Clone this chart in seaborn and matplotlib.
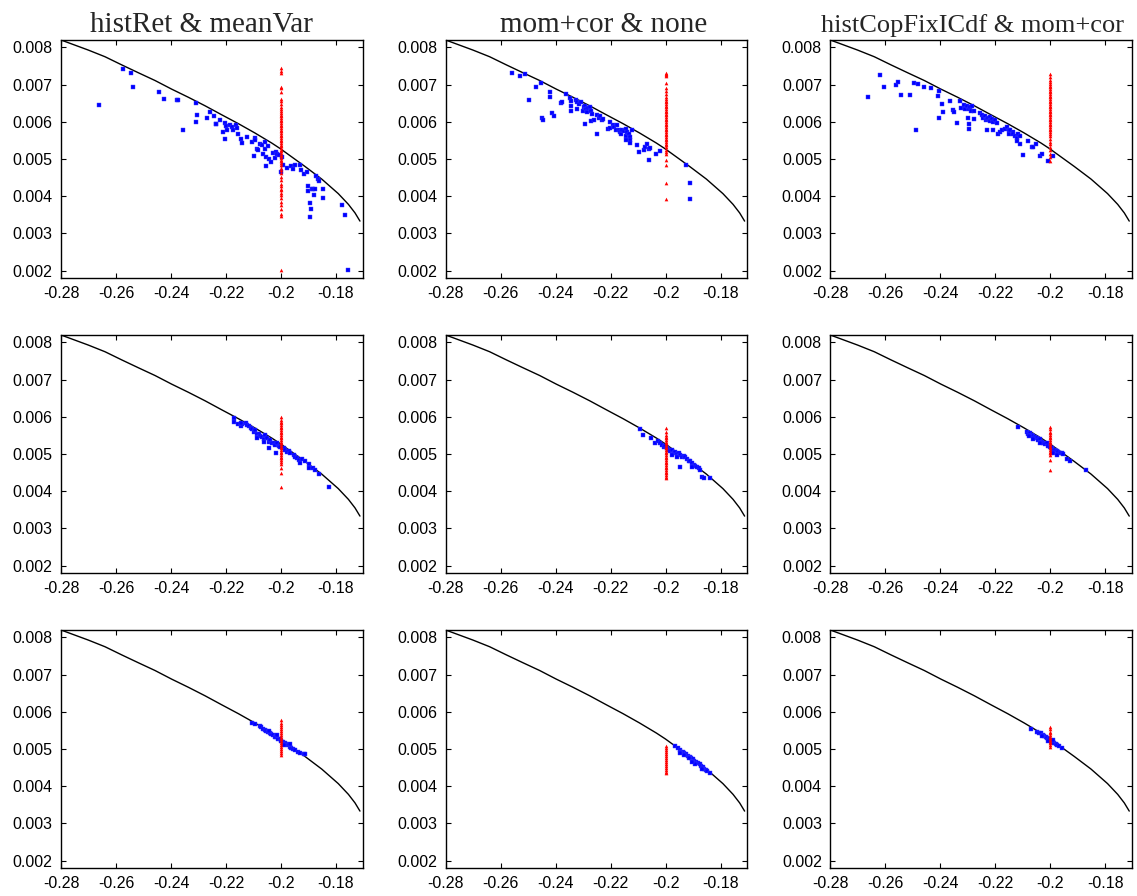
import matplotlib
matplotlib.use("Agg")
import matplotlib.pyplot as plt
import seaborn as sns
import pandas as pd

# ---------------- data ----------------
TITLES = ["histRet & meanVar", "mom+cor & none", "histCopFixICdf & mom+cor"]
TITLE_X = [0.467, 0.525, 0.470]
TITLE_SIZE = [21, 21, 19]

X_TICKS = [-0.28, -0.26, -0.24, -0.22, -0.20, -0.18]
X_TICK_LABELS = ["-0.28", "-0.26", "-0.24", "-0.22", "-0.2", "-0.18"]
Y_TICKS = [0.002, 0.003, 0.004, 0.005, 0.006, 0.007, 0.008]
Y_TICK_LABELS = ["0.002", "0.003", "0.004", "0.005", "0.006", "0.007", "0.008"]

# efficient frontier
frontier_x = [-0.28, -0.2701, -0.264, -0.2579, -0.2519, -0.2458, -0.2398, -0.2337,
              -0.2276, -0.2216, -0.2155, -0.2095, -0.2034, -0.2001, -0.1973, -0.1913,
              -0.1852, -0.1792, -0.1755, -0.1731, -0.1713]
frontier_y = [0.0082, 0.00793, 0.00775, 0.00753, 0.00732, 0.00711, 0.00688, 0.00666,
              0.00643, 0.00619, 0.00595, 0.0057, 0.00543, 0.00527, 0.00512, 0.0048,
              0.00446, 0.00407, 0.00378, 0.00355, 0.00333]

RED_X = -0.2

# panel 1: histRet & meanVar (row 1)
blue_x_1 = [-0.2663, -0.2576, -0.2546, -0.2538, -0.2444, -0.2425, -0.2380, -0.2375, -0.2357,
            -0.2308, -0.2306, -0.2308, -0.2269, -0.2259, -0.2245, -0.2238, -0.2235, -0.2221,
            -0.2212, -0.2203, -0.2202, -0.2200, -0.2197, -0.2185, -0.2178, -0.2173, -0.2165,
            -0.2161, -0.2157, -0.2146, -0.2142, -0.2122, -0.2106, -0.2097, -0.2095, -0.2094,
            -0.2088, -0.2082, -0.2076, -0.2070, -0.2064, -0.2058, -0.2056, -0.2057, -0.2053,
            -0.2047, -0.2043, -0.2037, -0.2031, -0.2023, -0.2017, -0.2013, -0.2007, -0.2001,
            -0.1995, -0.1993, -0.1978, -0.1963, -0.1957, -0.1951, -0.1930, -0.1927, -0.1915,
            -0.1906, -0.1903, -0.1903, -0.1894, -0.1891, -0.1894, -0.1888, -0.1883, -0.1879,
            -0.1875, -0.1873, -0.1867, -0.1861, -0.1849, -0.1849, -0.1779, -0.1769, -0.1758]
blue_y_1 = [0.00644, 0.00742, 0.00731, 0.00694, 0.00681, 0.00662, 0.00659, 0.00659, 0.00577,
            0.0065, 0.00617, 0.00599, 0.00610, 0.00626, 0.00616, 0.00593, 0.00595, 0.00605,
            0.00572, 0.00598, 0.00553, 0.0059, 0.00579, 0.00592, 0.00586, 0.00577, 0.00592,
            0.00583, 0.00568, 0.00554, 0.00543, 0.00559, 0.00546, 0.00507, 0.00557, 0.0055,
            0.00528, 0.00523, 0.00541, 0.00537, 0.00514, 0.00528, 0.0048, 0.00546, 0.00505,
            0.00534, 0.00501, 0.00492, 0.00516, 0.00504, 0.0052, 0.00514, 0.00512, 0.00465,
            0.00505, 0.00485, 0.00476, 0.0048, 0.00473, 0.00485, 0.00483, 0.0047, 0.00461,
            0.00465, 0.00428, 0.00413, 0.00382, 0.00365, 0.00345, 0.0042, 0.00418, 0.00404,
            0.00419, 0.00454, 0.00447, 0.0044, 0.00418, 0.00396, 0.00376, 0.00349, 0.00202]
red_y_1 = [0.007438, 0.007375, 0.007313, 0.006946, 0.0069, 0.006795, 0.006616, 0.006554,
           0.006482, 0.006393, 0.006339, 0.006286, 0.006232, 0.006188, 0.006143, 0.006098,
           0.006054, 0.006009, 0.005964, 0.00592, 0.005875, 0.00583, 0.005786, 0.005741,
           0.005696, 0.005652, 0.005607, 0.005563, 0.005518, 0.005473, 0.005429, 0.005384,
           0.005339, 0.005295, 0.00525, 0.005205, 0.005161, 0.005116, 0.005071, 0.005027,
           0.004982, 0.004938, 0.004893, 0.00483, 0.004768, 0.004696, 0.004625, 0.004518,
           0.004429, 0.004339, 0.004277, 0.004205, 0.004161, 0.004089, 0.004027, 0.003938,
           0.003848, 0.003759, 0.003652, 0.003509, 0.003464, 0.002018]

# panel 2: mom+cor & none (row 1)
blue_x_2 = [-0.2557, -0.2529, -0.2512, -0.2497, -0.2473, -0.2453, -0.2450, -0.2445, -0.2421,
            -0.2421, -0.2412, -0.2406, -0.2382, -0.2378, -0.2364, -0.2348, -0.2343, -0.2346,
            -0.2346, -0.2327, -0.2321, -0.2315, -0.2321, -0.2309, -0.2301, -0.2297, -0.2294,
            -0.2289, -0.2285, -0.2282, -0.2276, -0.2273, -0.2269, -0.2295, -0.2271, -0.2261,
            -0.2251, -0.2249, -0.2243, -0.2237, -0.2233, -0.2227, -0.2209, -0.2203, -0.2201,
            -0.2192, -0.2189, -0.2182, -0.2176, -0.2170, -0.2167, -0.2162, -0.2158, -0.2152,
            -0.2146, -0.2143, -0.2140, -0.2134, -0.2131, -0.2128, -0.2122, -0.2146, -0.2131,
            -0.2104, -0.2098, -0.2080, -0.2074, -0.2068, -0.2062, -0.2056, -0.2062, -0.2034,
            -0.2022, -0.1925, -0.1911, -0.1911]
blue_y_2 = [0.007304, 0.007241, 0.007277, 0.00658, 0.006929, 0.007045, 0.006107, 0.006062,
            0.006813, 0.006661, 0.00625, 0.006161, 0.0065, 0.006527, 0.00675, 0.006634,
            0.006571, 0.00642, 0.006286, 0.006598, 0.006527, 0.006482, 0.006348, 0.006527,
            0.006304, 0.006393, 0.006438, 0.006348, 0.006259, 0.006375, 0.006411, 0.006304,
            0.006214, 0.005946, 0.006009, 0.006054, 0.005661, 0.00617, 0.006107, 0.006143,
            0.006036, 0.00608, 0.005813, 0.005839, 0.005982, 0.00592, 0.005857, 0.005768,
            0.005902, 0.005786, 0.005723, 0.005661, 0.005768, 0.00575, 0.005607, 0.005813,
            0.005723, 0.005679, 0.005589, 0.0055, 0.005768, 0.0055, 0.005438, 0.005384,
            0.005188, 0.00525, 0.005321, 0.005411, 0.005259, 0.005304, 0.004964, 0.005125,
            0.005214, 0.00483, 0.004366, 0.003911]
red_y_2 = [0.007304, 0.007286, 0.007259, 0.007241, 0.007036, 0.006911, 0.006839, 0.00675,
           0.006679, 0.006616, 0.006571, 0.006527, 0.006482, 0.006438, 0.006393, 0.006348,
           0.006304, 0.006259, 0.006214, 0.00617, 0.006125, 0.00608, 0.006036, 0.005991,
           0.005946, 0.005902, 0.005857, 0.005813, 0.005768, 0.005723, 0.005679, 0.005634,
           0.005589, 0.005545, 0.0055, 0.005455, 0.005411, 0.005366, 0.005321, 0.00525,
           0.005188, 0.005125, 0.004982, 0.004848, 0.004366, 0.003911]

# panel 3: histCopFixICdf & mom+cor (row 1)
blue_x_3 = [-0.2663, -0.2620, -0.2603, -0.2562, -0.2552, -0.2543, -0.2511, -0.2497, -0.2488,
            -0.2482, -0.2460, -0.2434, -0.2410, -0.2404, -0.2404, -0.2394, -0.2389, -0.2366,
            -0.2354, -0.2349, -0.2340, -0.2327, -0.2324, -0.2313, -0.2309, -0.2303, -0.2301,
            -0.2297, -0.2291, -0.2288, -0.2285, -0.2297, -0.2294, -0.2279, -0.2279, -0.2255,
            -0.2249, -0.2245, -0.2239, -0.2233, -0.2231, -0.2227, -0.2221, -0.2219, -0.2213,
            -0.2207, -0.2201, -0.2231, -0.2207, -0.2195, -0.2189, -0.2182, -0.2176, -0.2164,
            -0.2158, -0.2152, -0.2152, -0.2146, -0.2137, -0.2134, -0.2128, -0.2122, -0.2116,
            -0.2112, -0.2112, -0.2122, -0.2098, -0.2082, -0.2068, -0.2062, -0.2052, -0.2037,
            -0.2030, -0.2007, -0.1989]
blue_y_3 = [0.006679, 0.007268, 0.006946, 0.006991, 0.00708, 0.006723, 0.006723, 0.007045,
            0.005786, 0.007018, 0.006929, 0.006902, 0.006705, 0.006839, 0.006107, 0.006482,
            0.006277, 0.006571, 0.006321, 0.006259, 0.005964, 0.006554, 0.006366, 0.006464,
            0.006348, 0.006438, 0.006107, 0.006348, 0.006411, 0.006304, 0.006438, 0.005813,
            0.005946, 0.006304, 0.006063, 0.006232, 0.00617, 0.006107, 0.006143, 0.006036,
            0.00608, 0.006107, 0.006125, 0.006018, 0.00608, 0.005991, 0.006054, 0.005786,
            0.005786, 0.005964, 0.005679, 0.005723, 0.005768, 0.005813, 0.005857, 0.005768,
            0.005679, 0.005768, 0.005723, 0.005661, 0.005607, 0.005571, 0.005661, 0.005607,
            0.005411, 0.005482, 0.005098, 0.005482, 0.005321, 0.005321, 0.005411, 0.00508,
            0.005125, 0.004938, 0.005071]
red_y_3 = [0.007286, 0.007214, 0.007125, 0.007063, 0.007018, 0.006973, 0.006929, 0.006884,
           0.006839, 0.006795, 0.00675, 0.006705, 0.006661, 0.006616, 0.006571, 0.006527,
           0.006482, 0.006438, 0.006393, 0.006348, 0.006304, 0.006259, 0.006214, 0.00617,
           0.006125, 0.00608, 0.006036, 0.005991, 0.005946, 0.005902, 0.005857, 0.005813,
           0.005768, 0.005723, 0.005679, 0.005607, 0.005545, 0.005455, 0.005393, 0.005321,
           0.005232, 0.005125, 0.005054, 0.004938]

# panel 4 (row 2, col 1)
blue_x_4 = [-0.2172, -0.2172, -0.2157, -0.2147, -0.2141, -0.2129, -0.2123, -0.2117, -0.2111,
            -0.2105, -0.2099, -0.2093, -0.2087, -0.2081, -0.2075, -0.2069, -0.2063, -0.2057,
            -0.2051, -0.2045, -0.2039, -0.2033, -0.2027, -0.2021, -0.2015, -0.2008, -0.2002,
            -0.1990, -0.1984, -0.1978, -0.1972, -0.1966, -0.1954, -0.1948, -0.1942, -0.1936,
            -0.1930, -0.1924, -0.1912, -0.1900, -0.1900, -0.1882, -0.1876, -0.1863, -0.1827,
            -0.2017, -0.2045, -0.2147, -0.2087, -0.2063]
blue_y_4 = [0.00598, 0.00587, 0.0058, 0.00575, 0.0058, 0.00584, 0.00578, 0.00575, 0.00569,
            0.00566, 0.0056, 0.00564, 0.00555, 0.00553, 0.00548, 0.00545, 0.00539, 0.00551,
            0.00542, 0.00533, 0.00537, 0.00529, 0.0053, 0.00524, 0.00529, 0.00521, 0.00518,
            0.00515, 0.00511, 0.00506, 0.00509, 0.00502, 0.00497, 0.00493, 0.00488, 0.00484,
            0.00477, 0.00486, 0.0048, 0.00473, 0.00462, 0.00462, 0.00457, 0.00446, 0.00411,
            0.00502, 0.00515, 0.00584, 0.00542, 0.00533]
red_y_4 = [0.005982, 0.005911, 0.005866, 0.005821, 0.005777, 0.005732, 0.005688, 0.005643,
           0.005598, 0.005554, 0.005509, 0.005464, 0.00542, 0.005375, 0.00533, 0.005286,
           0.005241, 0.005196, 0.005152, 0.005107, 0.005063, 0.005018, 0.004973, 0.004929,
           0.004884, 0.004839, 0.004795, 0.004732, 0.004616, 0.004482, 0.004107]

# panel 5 (row 2, col 2)
blue_x_5 = [-0.2092, -0.2082, -0.2053, -0.2037, -0.2029, -0.2022, -0.2013, -0.2007, -0.2001,
            -0.1995, -0.1989, -0.1983, -0.1977, -0.1971, -0.1965, -0.1959, -0.1953, -0.1947,
            -0.1941, -0.1935, -0.1929, -0.1923, -0.1917, -0.1911, -0.1905, -0.1898, -0.1892,
            -0.1886, -0.1880, -0.1874, -0.1868, -0.1862, -0.1838, -0.1947, -0.1905, -0.1977,
            -0.1959]
blue_y_5 = [0.00567, 0.00551, 0.00544, 0.0053, 0.00536, 0.00529, 0.00524, 0.0052, 0.00521,
            0.00515, 0.00512, 0.00509, 0.00511, 0.00504, 0.00506, 0.005, 0.00502, 0.00497,
            0.00493, 0.00495, 0.00491, 0.00486, 0.00482, 0.0048, 0.00475, 0.00471, 0.00468,
            0.00464, 0.00462, 0.00457, 0.00439, 0.00435, 0.00435, 0.00464, 0.00466, 0.00497,
            0.00493]
red_y_5 = [0.005688, 0.005598, 0.005509, 0.005464, 0.00542, 0.005375, 0.00533, 0.005286,
           0.005241, 0.005196, 0.005152, 0.005107, 0.005063, 0.005018, 0.004973, 0.004929,
           0.004884, 0.004839, 0.004795, 0.00475, 0.004705, 0.004661, 0.004616, 0.004571,
           0.004527, 0.004482, 0.004438, 0.004393, 0.004348]

# panel 6 (row 2, col 3)
blue_x_6 = [-0.2116, -0.2086, -0.2080, -0.2074, -0.2068, -0.2062, -0.2056, -0.2050, -0.2044,
            -0.2037, -0.2031, -0.2025, -0.2019, -0.2013, -0.2007, -0.2001, -0.1995, -0.1989,
            -0.1983, -0.1977, -0.1971, -0.1965, -0.1959, -0.1953, -0.1989, -0.1941, -0.1929,
            -0.1871, -0.2076, -0.2062, -0.2037, -0.1977]
blue_y_6 = [0.00572, 0.0056, 0.00555, 0.00557, 0.00551, 0.00548, 0.00545, 0.00542, 0.00537,
            0.00539, 0.00533, 0.0053, 0.00527, 0.00529, 0.00521, 0.0052, 0.00515, 0.00512,
            0.00511, 0.00509, 0.00506, 0.00504, 0.00502, 0.005, 0.00502, 0.00486, 0.0048,
            0.00457, 0.00548, 0.00539, 0.00529, 0.00497]
red_y_6 = [0.005732, 0.005661, 0.005598, 0.005554, 0.005509, 0.005464, 0.00542, 0.005375,
           0.00533, 0.005286, 0.005241, 0.005196, 0.005152, 0.005107, 0.005063, 0.005018,
           0.004973, 0.004839, 0.004571]

# panel 7 (row 3, col 1)
blue_x_7 = [-0.2105, -0.2093, -0.2077, -0.2073, -0.2065, -0.2059, -0.2053, -0.2047, -0.2041,
            -0.2035, -0.2029, -0.2023, -0.2017, -0.2011, -0.2005, -0.1999, -0.1993, -0.1987,
            -0.1981, -0.1975, -0.1969, -0.1963, -0.1956, -0.1948, -0.1940, -0.1930, -0.1918,
            -0.1912, -0.2045, -0.2015, -0.1990, -0.1966]
blue_y_7 = [0.00571, 0.00567, 0.00562, 0.00558, 0.00554, 0.00551, 0.00549, 0.00545, 0.00543,
            0.0054, 0.00537, 0.00533, 0.00531, 0.00528, 0.00526, 0.00522, 0.00519, 0.00517,
            0.00513, 0.0051, 0.00506, 0.00504, 0.00501, 0.00497, 0.00493, 0.0049, 0.00487,
            0.00486, 0.00549, 0.00537, 0.00511, 0.00513]
red_y_7 = [0.005777, 0.005705, 0.005643, 0.00558, 0.005527, 0.005473, 0.00542, 0.005366,
           0.005313, 0.005259, 0.005205, 0.005152, 0.005098, 0.005045, 0.004991, 0.004938,
           0.004884, 0.004839]

# panel 8 (row 3, col 2)
blue_x_8 = [-0.1965, -0.1956, -0.1949, -0.1944, -0.1937, -0.1932, -0.1925, -0.1920, -0.1913,
            -0.1908, -0.1901, -0.1896, -0.1889, -0.1884, -0.1877, -0.1872, -0.1865, -0.1860,
            -0.1853, -0.1848, -0.1838, -0.1935, -0.1917, -0.1892, -0.1868, -0.1947, -0.1905]
blue_y_8 = [0.00508, 0.00502, 0.00497, 0.00493, 0.00491, 0.00488, 0.00486, 0.00481, 0.00478,
            0.00475, 0.00472, 0.00469, 0.00465, 0.00462, 0.00459, 0.00454, 0.00451, 0.00447,
            0.00444, 0.00442, 0.00435, 0.00484, 0.00475, 0.0046, 0.00446, 0.00488, 0.00466]
red_y_8 = [0.00508, 0.005027, 0.004973, 0.00492, 0.004866, 0.004813, 0.004759, 0.004705,
           0.004652, 0.004598, 0.004545, 0.004491, 0.004438, 0.004384, 0.004348]

# panel 9 (row 3, col 3)
blue_x_9 = [-0.2071, -0.2047, -0.2040, -0.2035, -0.2028, -0.2023, -0.2016, -0.2011, -0.2004,
            -0.1999, -0.1992, -0.1987, -0.1979, -0.1975, -0.1967, -0.1959, -0.2031, -0.2007,
            -0.1989]
blue_y_9 = [0.00555, 0.00546, 0.00544, 0.00542, 0.00538, 0.00535, 0.00531, 0.00529, 0.00526,
            0.00522, 0.0052, 0.00517, 0.00513, 0.00512, 0.00508, 0.00504, 0.00535, 0.00522,
            0.00524]
red_y_9 = [0.00558, 0.005527, 0.005464, 0.00542, 0.005375, 0.00533, 0.005286, 0.005241,
           0.005196, 0.005152, 0.005107, 0.005045]

BLUE_X = [blue_x_1, blue_x_2, blue_x_3, blue_x_4, blue_x_5, blue_x_6, blue_x_7, blue_x_8, blue_x_9]
BLUE_Y = [blue_y_1, blue_y_2, blue_y_3, blue_y_4, blue_y_5, blue_y_6, blue_y_7, blue_y_8, blue_y_9]
RED_Y = [red_y_1, red_y_2, red_y_3, red_y_4, red_y_5, red_y_6, red_y_7, red_y_8, red_y_9]

# ---------------- plotting ----------------
sns.set_style("ticks")
plt.rcParams["font.family"] = ["Liberation Sans", "DejaVu Sans"]

fig, axes = plt.subplots(3, 3, figsize=(11.37, 8.96), dpi=100)
fig.subplots_adjust(left=61 / 1137, right=1132 / 1137, top=1 - 40 / 896, bottom=1 - 868 / 896,
                    wspace=83 / 302, hspace=57 / 238)

frontier_df = pd.DataFrame({"x": frontier_x, "y": frontier_y})

for i, ax in enumerate(axes.flat):
    bdf = pd.DataFrame({"x": BLUE_X[i], "y": BLUE_Y[i]})
    rdf = pd.DataFrame({"x": [RED_X] * len(RED_Y[i]), "y": RED_Y[i]})
    sns.lineplot(data=frontier_df, x="x", y="y", ax=ax, color="black", linewidth=1.0,
                 sort=False, estimator=None)
    sns.scatterplot(data=bdf, x="x", y="y", ax=ax, color="#0000ff", marker="s", s=12,
                    linewidth=0.3, edgecolor="#4040ff", zorder=3)
    sns.scatterplot(data=rdf, x="x", y="y", ax=ax, color="#ff0000", marker="^", s=7,
                    linewidth=0, zorder=4)
    ax.set_xlim(-0.28, -0.1703)
    ax.set_ylim(0.0018, 0.0082)
    ax.set_xticks(X_TICKS)
    ax.set_xticklabels(X_TICK_LABELS)
    ax.set_yticks(Y_TICKS)
    ax.set_yticklabels(Y_TICK_LABELS)
    ax.set_xlabel("")
    ax.set_ylabel("")
    ax.tick_params(direction="in", top=True, right=True, length=3.5, width=0.8,
                   labelsize=11.5, colors="black")
    ax.tick_params(axis="y", pad=6)
    ax.tick_params(axis="x", pad=6)
    for sp in ax.spines.values():
        sp.set_visible(True)
        sp.set_linewidth(1.0)
        sp.set_color("black")
    if i < 3:
        ax.set_title(TITLES[i], fontfamily="Liberation Serif", fontsize=TITLE_SIZE[i], pad=6,
                     x=TITLE_X[i])

fig.savefig("out.png", dpi=100)
